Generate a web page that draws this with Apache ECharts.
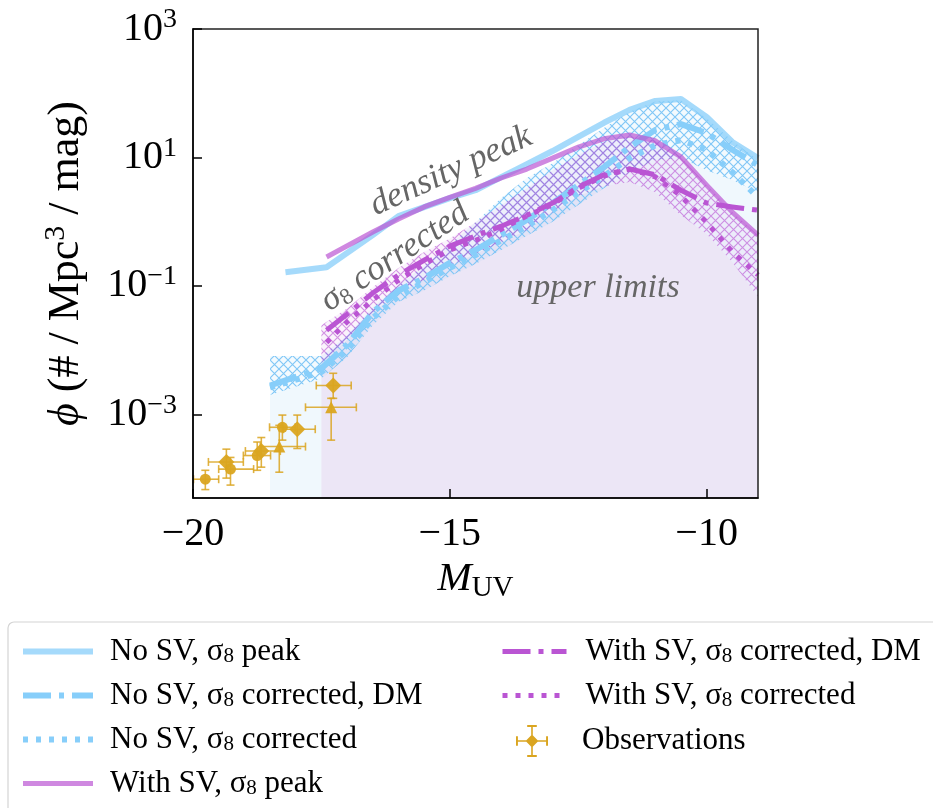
<!DOCTYPE html>
<html><head><meta charset="utf-8">
<script src="https://cdn.jsdelivr.net/npm/echarts@6/dist/echarts.min.js"></script>
<style>html,body{margin:0;padding:0;background:#fff}#c{width:933px;height:808px}</style>
</head><body><div id="c"></div>
<script>
// ---------------- data ----------------
const X_MIN = -20, X_MAX = -9, Y_MIN = 5e-5, Y_MAX = 1000;
const xTicks = [-20, -15, -10];
const yTicks = [1e-3, 1e-1, 10, 1000];

const mNoSvPeak = [-18.2,-17.4,-16.5,-16,-15.5,-15,-14.5,-14,-13.5,-13,-12.5,-12,-11.5,-11,-10.5,-10,-9.5,-9];
const noSvPeak  = [0.164,0.196,0.618,1.22,1.69,2.33,3.09,4.95,7.89,12.6,20.9,34.7,55.0,75.9,81.3,42.7,17.4,9.77];

const mWithSvPeak = [-17.4,-16.5,-16,-15.5,-15,-14.5,-14,-13.5,-13,-12.5,-12,-11.5,-11,-10.5,-10,-9.5,-9];
const withSvPeak  = [0.282,0.692,1.10,1.70,2.40,3.31,4.79,6.61,9.77,14.5,19.5,22.4,18.2,10.2,3.72,1.41,0.617];

const mWithSvCorr = [-17.4,-17,-16.5,-16,-15.5,-15,-14.5,-14,-13.5,-13,-12.5,-12,-11.5,-11,-10.5,-10,-9.5,-9];
const withSvCorrDM = [0.0204,0.0363,0.0776,0.148,0.251,0.417,0.603,0.851,1.26,1.95,3.47,5.37,6.61,5.37,3.09,1.95,1.70,1.51];
const withSvCorr   = [0.0132,0.0275,0.0603,0.123,0.219,0.363,0.513,0.759,1.23,1.86,3.31,5.13,6.61,5.01,2.51,0.977,0.339,0.148];

const mNoSvCorr = [-18.5,-17.5,-17,-16.5,-16,-15.5,-15,-14.5,-14,-13.5,-13,-12.5,-12,-11.5,-11,-10.5,-10,-9.5,-9];
const noSvCorrDM = [0.00282,0.00525,0.0120,0.0389,0.0851,0.132,0.229,0.363,0.617,1.07,1.95,3.72,7.08,14.5,26.9,33.1,24.0,13.2,7.59];
const noSvCorr   = [0.00263,0.00457,0.0100,0.0316,0.0692,0.115,0.191,0.302,0.513,0.851,1.51,2.82,5.13,9.77,15.5,18.6,13.2,5.89,2.40];

// hatched bands (ranges) and upper-limit regions
const noSvBandHi = [0.00813,0.00813,0.0170,0.0468,0.102,0.209,0.437,0.977,2.34,4.79,8.13,15.5,28.8,51.3,74.1,77.6,40.7,18.2,9.12];
const noSvBandLo = [0.00200,0.00363,0.00776,0.0245,0.0562,0.0851,0.141,0.219,0.363,0.603,1.00,1.82,3.31,5.89,9.12,9.77,6.31,4.47,2.88];
const mWithSvBand = [-17.5,-17,-16.5,-16,-15.5,-15,-14.5,-14,-13.5,-13,-12.5,-12,-11.5,-11,-10.5,-10,-9.5,-9];
const withSvBandHi = [0.0245,0.0447,0.0955,0.191,0.339,0.550,0.977,1.82,3.31,6.31,11.0,17.4,21.4,18.2,10.2,3.72,1.41,0.617];
const withSvBandLo = [0.00646,0.0145,0.0389,0.0794,0.123,0.204,0.316,0.479,0.741,1.41,2.51,3.55,4.17,2.88,1.26,0.646,0.234,0.0676];

// observations
const obsM     = [-19.76,-19.35,-19.27,-18.75,-18.67,-18.32,-18.26,-17.97,-17.27,-17.31];
const obsPhi   = [9.8e-5,1.82e-4,1.41e-4,2.29e-4,2.69e-4,3.16e-4,6.31e-4,5.89e-4,2.82e-3,1.29e-3];
const obsMLo   = [-19.99,-19.70,-19.50,-19.02,-18.98,-18.69,-18.51,-18.24,-17.60,-17.81];
const obsMHi   = [-19.50,-19.02,-18.82,-18.49,-18.30,-17.81,-18.01,-17.62,-16.92,-16.82];
const obsPhiLo = [6.76e-5,1.02e-4,7.94e-5,1.35e-4,1.51e-4,1.26e-4,3.98e-4,2.95e-4,1.78e-3,3.98e-4];
const obsPhiHi = [1.35e-4,2.88e-4,2.14e-4,3.72e-4,4.37e-4,6.76e-4,9.77e-4,9.77e-4,4.37e-3,1.78e-3];
const obsShape = ['circle','diamond','circle','circle','diamond','triangle','circle','diamond','diamond','triangle'];

const names = ['No SV, σ8 peak','No SV, σ8 corrected, DM','No SV, σ8 corrected','With SV, σ8 peak',
               'With SV, σ8 corrected, DM','With SV, σ8 corrected','Observations'];

// ---------------- styling ----------------
const SERIF = "'Liberation Serif','DejaVu Serif',serif";
const BLUE = '#87cefa', PURPLE = '#ba55d3', GOLD = '#daa520';

function hatch(color){
  const s = 9;
  const c = document.createElement('canvas'); c.width = s; c.height = s;
  const g = c.getContext('2d'); g.strokeStyle = color; g.lineWidth = 1.1;
  g.beginPath(); g.moveTo(-1,-1); g.lineTo(s+1,s+1); g.moveTo(s+1,-1); g.lineTo(-1,s+1); g.stroke();
  return c;
}
const blueHatch = hatch('rgba(120,195,245,0.95)');
const purpleHatch = hatch('rgba(186,85,211,0.62)');

const pairs = (xs, ys) => xs.map((x, i) => [x, ys[i]]);

function polySeries(xs, hi, lo, fill, z){
  return {
    type:'custom', silent:true, z, coordinateSystem:'cartesian2d',
    data:[[xs[0], hi[0]]],
    renderItem(params, api){
      const pts = [];
      for (let i = 0; i < xs.length; i++) pts.push(api.coord([xs[i], hi[i]]));
      for (let i = xs.length - 1; i >= 0; i--) pts.push(api.coord([xs[i], lo ? lo[i] : Y_MIN]));
      return {type:'polygon', shape:{points:pts}, style:{fill, stroke:null}};
    }
  };
}

function lineSeries(name, xs, ys, color, width, type, z){
  return {name, type:'line', data:pairs(xs, ys), symbol:'none', z, silent:true,
    lineStyle:{color, width, type, cap:'butt', join:'round'}, itemStyle:{color}};
}

const series = [
  polySeries(mNoSvCorr, noSvBandLo, null, 'rgb(240,248,253)', 1),
  polySeries(mWithSvBand, withSvBandLo, null, 'rgb(236,230,246)', 2),
  polySeries(mNoSvCorr, noSvBandHi, noSvBandLo, 'rgba(135,206,250,0.10)', 3),
  polySeries(mNoSvCorr, noSvBandHi, noSvBandLo, {image: blueHatch, repeat:'repeat'}, 3),
  polySeries(mWithSvBand, withSvBandHi, withSvBandLo, 'rgba(186,85,211,0.07)', 4),
  polySeries(mWithSvBand, withSvBandHi, withSvBandLo, {image: purpleHatch, repeat:'repeat'}, 4),
  lineSeries(names[0], mNoSvPeak, noSvPeak, 'rgba(135,206,250,0.75)', 6, 'solid', 10),
  lineSeries(names[1], mNoSvCorr, noSvCorrDM, BLUE, 6, [28,8,5,8], 10),
  lineSeries(names[2], mNoSvCorr, noSvCorr, BLUE, 6, [5,8], 10),
  lineSeries(names[3], mWithSvPeak, withSvPeak, 'rgba(186,85,211,0.7)', 5, 'solid', 11),
  lineSeries(names[4], mWithSvCorr, withSvCorrDM, PURPLE, 5, [28,8,5,8], 11),
  lineSeries(names[5], mWithSvCorr, withSvCorr, PURPLE, 5, [5,8], 11),
  {
    name:names[6], type:'custom', z:20, silent:true, coordinateSystem:'cartesian2d',
    itemStyle:{color:GOLD},
    data: obsM.map((m, i) => [m, obsPhi[i], obsMLo[i], obsMHi[i], obsPhiLo[i], obsPhiHi[i]]),
    renderItem(params, api){
      const c = api.coord([api.value(0), api.value(1)]);
      const l = api.coord([api.value(2), api.value(1)]);
      const r = api.coord([api.value(3), api.value(1)]);
      const b = api.coord([api.value(0), api.value(4)]);
      const t = api.coord([api.value(0), api.value(5)]);
      const st = {stroke:'rgba(218,165,32,0.85)', lineWidth:1.6};
      const cap = 4;
      const L = (x1,y1,x2,y2) => ({type:'line', shape:{x1,y1,x2,y2}, style:st});
      return {type:'group', children:[
        L(l[0],c[1],r[0],c[1]), L(c[0],t[1],c[0],b[1]),
        L(l[0],c[1]-cap,l[0],c[1]+cap), L(r[0],c[1]-cap,r[0],c[1]+cap),
        L(c[0]-cap,t[1],c[0]+cap,t[1]), L(c[0]-cap,b[1],c[0]+cap,b[1])
      ]};
    }
  },
  {
    name:names[6], type:'scatter', z:21, silent:true,
    itemStyle:{color:GOLD, opacity:0.95},
    data: obsM.map((m, i) => ({value:[m, obsPhi[i]], symbol:obsShape[i],
      symbolSize: obsShape[i] === 'diamond' ? 16 : (obsShape[i] === 'triangle' ? 12 : 11)}))
  }
];

const LFS = 31;
const richLegend = {
  n:{fontFamily:SERIF, fontSize:LFS, color:'#000', lineHeight:31},
  s:{fontFamily:SERIF, fontSize:LFS, color:'#000', lineHeight:31},
  sub:{fontFamily:SERIF, fontSize:21, color:'#000', lineHeight:31, verticalAlign:'bottom', padding:[9,0,0,0]}
};
const legendFmt = (name) => {
  const parts = name.split('σ8');
  if (parts.length < 2) return '{n|' + name + '}';
  return '{n|' + parts[0] + '}{s|σ}{sub|8}{n|' + parts[1] + '}';
};
const legendBase = {
  orient:'vertical', itemGap:13, formatter:legendFmt, selectedMode:false,
  lineStyle:{width:'inherit', type:'inherit', color:'inherit'},
  itemStyle:{color:'rgba(0,0,0,0)', borderWidth:0, opacity:0},
  textStyle:{fontFamily:SERIF, fontSize:LFS, color:'#000', rich:richLegend}
};
const obsIcon = 'path://M0,9.5H20V10.5H0Z M9.5,0H10.5V20H9.5Z M0,7H1.2V13H0Z M18.8,7H20V13H18.8Z M7,0H13V1.2H7Z M7,18.8H13V20H7Z M10,6L14,10L10,14L6,10Z';

const option = {
  animation:false,
  backgroundColor:'#fff',
  grid:{left:193, right:175, top:29, bottom:310, show:true, borderColor:'#222', borderWidth:1.5, backgroundColor:'transparent', z:30},
  xAxis:{
    type:'value', min:X_MIN, max:X_MAX, interval:5,
    name:'{m|M}{u|UV}', nameLocation:'middle', nameGap:58,
    nameTextStyle:{rich:{
      m:{fontFamily:SERIF, fontStyle:'italic', fontSize:41, color:'#000', lineHeight:46},
      u:{fontFamily:SERIF, fontSize:29, color:'#000', lineHeight:46, verticalAlign:'bottom', padding:[12,0,0,0]}
    }},
    axisLine:{show:true, lineStyle:{color:'#000', width:1.5}, onZero:false},
    axisTick:{show:true, inside:true, length:9, lineStyle:{color:'#000', width:1.5}},
    splitLine:{show:false},
    axisLabel:{margin:16, fontFamily:SERIF, fontSize:40, color:'#000',
      formatter:v => (v < 0 ? '\u2212' + Math.abs(v) : String(v))},
    z:30
  },
  yAxis:{
    type:'log', logBase:10, min:Y_MIN, max:Y_MAX,
    name:'{i|ϕ} (# / Mpc{e|3} / mag)', nameLocation:'middle', nameGap:102, nameRotate:90,
    nameTextStyle:{rich:{
      i:{fontFamily:SERIF, fontStyle:'italic', fontSize:44, color:'#000', lineHeight:50},
      e:{fontFamily:SERIF, fontSize:30, color:'#000', lineHeight:50, verticalAlign:'top', padding:[0,0,16,0]},
    }, fontFamily:SERIF, fontSize:44, color:'#000'},
    axisLine:{show:true, lineStyle:{color:'#000', width:1.5}},
    axisTick:{show:true, inside:true, length:9, lineStyle:{color:'#000', width:1.5}, customValues:yTicks},
    minorTick:{show:false},
    splitLine:{show:false},
    axisLabel:{margin:16, customValues:yTicks,
      formatter:v => {
        const e = Math.round(Math.log10(v));
        return '{b|10}{e|' + (e < 0 ? '\u2212' + Math.abs(e) : e) + '}';
      },
      rich:{
        b:{fontFamily:SERIF, fontSize:40, color:'#000', lineHeight:46},
        e:{fontFamily:SERIF, fontSize:28, color:'#000', lineHeight:46, verticalAlign:'top', padding:[0,0,16,0]}
      }
    },
    z:30
  },
  legend:[
    Object.assign({}, legendBase, {left:15, top:631, itemWidth:70, itemHeight:14,
      data:names.slice(0,4), textStyle:Object.assign({}, legendBase.textStyle, {padding:[0,0,0,12]})}),
    Object.assign({}, legendBase, {left:495, top:631, itemWidth:64, itemHeight:14,
      data:names.slice(4,6), textStyle:Object.assign({}, legendBase.textStyle, {padding:[0,0,0,14]})}),
    Object.assign({}, legendBase, {left:511, top:720, itemWidth:34, itemHeight:32,
      itemStyle:{color:GOLD, opacity:1},
      data:[{name:names[6], icon:obsIcon}], textStyle:Object.assign({}, legendBase.textStyle, {padding:[0,0,0,28]})})
  ],
  graphic:[
    {type:'rect', z:-1, shape:{x:8, y:622, width:960, height:220, r:6}, style:{fill:'#fff', stroke:'#d4d4d4', lineWidth:1.2}},
    {type:'text', z:50, x:451, y:171, rotation:24.5*Math.PI/180,
      style:{text:'density peak', fontFamily:SERIF, fontStyle:'italic', fontSize:35, fill:'#666', align:'center', verticalAlign:'middle'}},
    {type:'text', z:50, x:395, y:257, rotation:33.5*Math.PI/180,
      style:{text:'{a|σ}{b|8}{a| corrected}', fontFamily:SERIF, fontSize:35, fill:'#666', align:'center', verticalAlign:'middle',
        rich:{a:{fontFamily:SERIF, fontStyle:'italic', fontSize:35, fill:'#666', lineHeight:38},
              b:{fontFamily:SERIF, fontSize:23, fill:'#666', lineHeight:38, verticalAlign:'bottom', padding:[9,0,0,0]}}}},
    {type:'text', z:50, x:598, y:288,
      style:{text:'upper limits', fontFamily:SERIF, fontStyle:'italic', fontSize:34, fill:'#666', align:'center', verticalAlign:'middle'}}
  ],
  series
};

const chart = echarts.init(document.getElementById('c'), null, {renderer:'canvas'});
chart.setOption(option);
</script>
</body></html>
